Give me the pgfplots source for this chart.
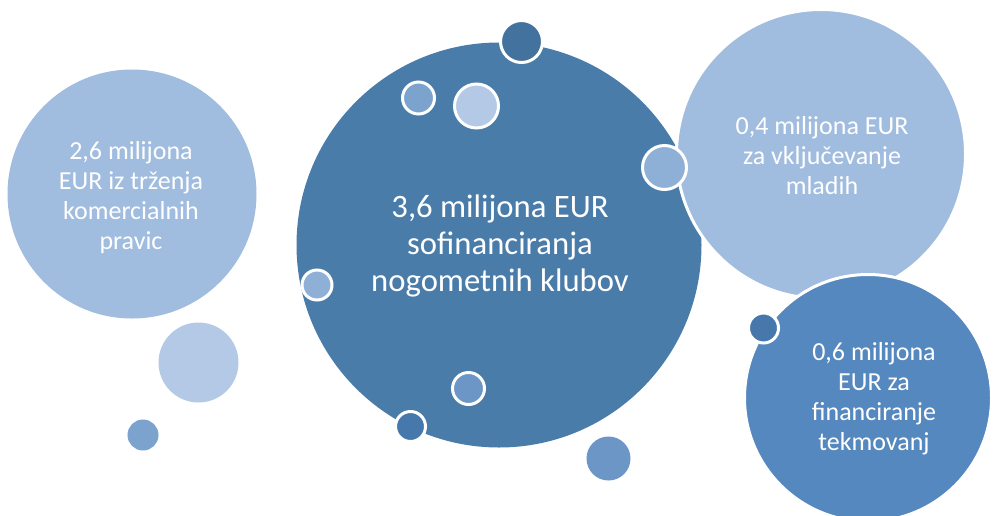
\documentclass[border=0pt]{standalone}
\usepackage{pgfplots}
\pgfplotsset{compat=1.18}
\usepackage{fontspec}
\setmainfont{Carlito}

\definecolor{cBig}{RGB}{74,124,170}
\definecolor{cBigB}{RGB}{71,120,172}
\definecolor{cLight}{RGB}{160,188,222}
\definecolor{cPale}{RGB}{180,201,230}
\definecolor{cDark}{RGB}{68,114,158}
\definecolor{cMid}{RGB}{85,136,190}
\definecolor{cSoft}{RGB}{123,163,206}
\definecolor{cGrey}{RGB}{143,176,214}
\definecolor{cMedium}{RGB}{107,150,198}

\begin{document}
\begin{tikzpicture}
\begin{axis}[
 scale only axis,width=747pt,height=386.25pt,
 xmin=0,xmax=996,ymin=0,ymax=515,y dir=reverse,
 hide axis,clip=true,clip marker paths=true,
 % bubble: fill colour, outline colour; x y in pixels, r radius in pixels
 bub/.style 2 args={scatter,only marks,mark=*,
  scatter/use mapped color={draw=#2,fill=#1,line width=2.25pt},
  visualization depends on={0.75*\thisrow{r}\as\rr},
  scatter/@pre marker code/.append style={/tikz/mark size=\rr}},
]
\addplot[bub={cBig}{cBig}] table[row sep=\\]{x y r\\ 499 245 201\\};
\addplot[bub={cLight}{white}] table[row sep=\\]{x y r\\ 821 154 144.5\\};
\addplot[bub={cMid}{white}] table[row sep=\\]{x y r\\ 868 398 123.5\\};
\addplot[bub={cLight}{cLight}] table[row sep=\\]{x y r\\ 132 194 123\\};
\addplot[bub={cPale}{cPale}] table[row sep=\\]{x y r\\ 198.5 362.5 38.5\\};
\addplot[bub={cSoft}{cSoft}] table[row sep=\\]{x y r\\ 143 435 14\\};
\addplot[bub={cMedium}{cMedium}] table[row sep=\\]{x y r\\ 608.5 458.5 20.5\\};
\addplot[bub={cDark}{white}] table[row sep=\\]{x y r\\ 521.5 41.5 21\\};
\addplot[bub={cSoft}{white}] table[row sep=\\]{x y r\\ 418.5 98 16\\};
\addplot[bub={cPale}{white}] table[row sep=\\]{x y r\\ 476.5 106 22\\};
\addplot[bub={cGrey}{white}] table[row sep=\\]{x y r\\ 317 285 15\\ 664.5 167.5 22\\};
\addplot[bub={cMedium}{white}] table[row sep=\\]{x y r\\ 468.5 388.5 16\\};
\addplot[bub={cBigB}{white}] table[row sep=\\]{x y r\\ 410.5 426.5 15\\ 763.5 328 15\\};

\node[align=center,text=white,font=\fontsize{19.5}{22.5}\selectfont] at (axis cs:131,198)
 {2,6 milijona\\EUR iz trženja\\komercialnih\\pravic};
\node[align=center,text=white,font=\fontsize{24.5}{27.75}\selectfont] at (axis cs:500,246)
 {3,6 milijona EUR\\sofinanciranja\\nogometnih klubov};
\node[align=center,text=white,font=\fontsize{19.5}{22.5}\selectfont] at (axis cs:822,156)
 {0,4 milijona EUR\\za vključevanje\\mladih};
\node[align=center,text=white,font=\fontsize{19.5}{22.5}\selectfont] at (axis cs:874,399)
 {0,6 milijona\\EUR za\\financiranje\\tekmovanj};
\coordinate (c1) at (rel axis cs:0,0);
\coordinate (c2) at (rel axis cs:1,1);
\end{axis}
\pgfresetboundingbox
\path[use as bounding box] (c1) rectangle (c2);
\end{tikzpicture}
\end{document}
